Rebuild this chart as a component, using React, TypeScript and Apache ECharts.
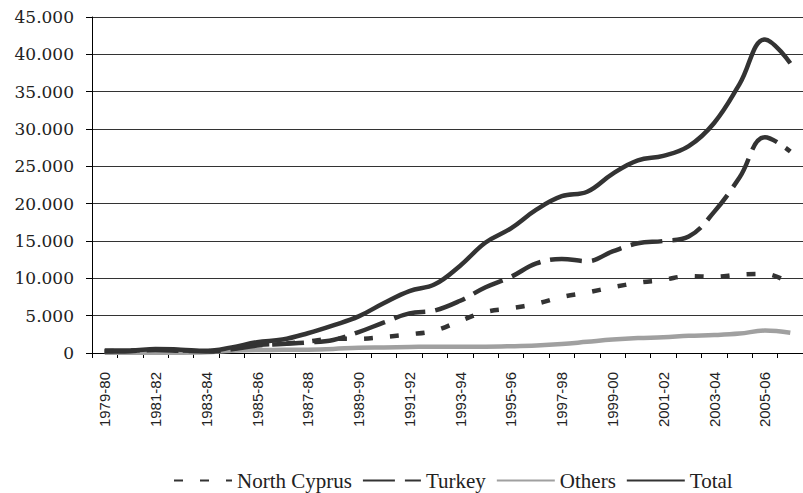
import React, { useEffect, useRef } from "react";
import * as echarts from "echarts";

const categories = [
  "1979-80", "1980-81", "1981-82", "1982-83", "1983-84", "1984-85", "1985-86",
  "1986-87", "1987-88", "1988-89", "1989-90", "1990-91", "1991-92", "1992-93",
  "1993-94", "1994-95", "1995-96", "1996-97", "1997-98", "1998-99", "1999-00",
  "2000-01", "2001-02", "2002-03", "2003-04", "2004-05", "2005-06", "2006-07",
];

const northCyprus = [
  250, 300, 450, 350, 250, 600, 1050, 1250, 1550, 1900, 1900, 2150, 2500, 3000,
  4300, 5500, 6000, 6600, 7500, 8100, 8800, 9400, 9800, 10300, 10200, 10500, 10600, 9300,
];
const turkey = [
  200, 250, 400, 300, 200, 500, 1000, 1200, 1400, 1750, 2800, 4100, 5300, 5700,
  7000, 8800, 10200, 12000, 12600, 12300, 13600, 14700, 15000, 15600, 18900, 23500, 28900, 27000,
];
const others = [
  50, 50, 50, 50, 100, 300, 400, 420, 450, 550, 700, 750, 800, 850,
  850, 850, 900, 1000, 1200, 1500, 1800, 2000, 2100, 2300, 2400, 2600, 3000, 2700,
];
const total = [
  350, 350, 550, 450, 300, 750, 1450, 1800, 2650, 3700, 4900, 6700, 8300, 9200,
  11700, 14800, 16700, 19200, 21000, 21600, 24000, 25800, 26400, 27700, 30800, 36000, 42000, 38800,
];

const seriesNames = ["North Cyprus", "Turkey", "Others", "Total"];

const fmt = (v: number) =>
  String(v).replace(/\B(?=(\d{3})+(?!\d))/g, ".");

export default function App() {
  const ref = useRef<HTMLDivElement>(null);
  useEffect(() => {
    if (!ref.current) return;
    const chart = echarts.init(ref.current, undefined, { renderer: "svg" });
    const dark = "#333333";
    const gray = "#a0a0a0";
    chart.setOption({
      animation: false,
      backgroundColor: "#ffffff",
      grid: { left: 92, top: 17, right: -11, bottom: 140, containLabel: false },
      legend: {
        data: seriesNames,
        left: 168,
        top: 465,
        itemWidth: 58,
        itemHeight: 14,
        itemGap: 10,
        itemStyle: { opacity: 0, borderWidth: 0 },
        textStyle: { fontFamily: "Liberation Serif", fontSize: 21, color: "#222" },
      },
      xAxis: {
        type: "category",
        data: categories,
        boundaryGap: true,
        axisLine: { lineStyle: { color: "#000", width: 1 } },
        axisTick: { show: true, interval: 0, length: 5, lineStyle: { color: "#000" } },
        axisLabel: {
          interval: 1,
          rotate: 90,
          margin: 19,
          fontFamily: "Liberation Sans",
          fontSize: 15,
          color: "#222",
        },
        splitLine: { show: false },
      },
      yAxis: {
        type: "value",
        min: 0,
        max: 45000,
        interval: 5000,
        axisLine: { show: true, lineStyle: { color: "#000", width: 1 } },
        axisTick: { show: true, length: 6, lineStyle: { color: "#000" } },
        axisLabel: {
          margin: 18,
          fontFamily: "DejaVu Serif",
          fontSize: 17,
          color: "#222",
          formatter: (v: number) => fmt(v),
        },
        splitLine: { show: true, lineStyle: { color: "#333", width: 1 } },
      },
      series: [
        {
          name: "North Cyprus",
          type: "line",
          data: northCyprus,
          smooth: 0.4,
          symbol: "none",
          itemStyle: { color: dark },
          lineStyle: { color: dark, width: 4.5, type: [9, 17], cap: "butt" },
          z: 3,
        },
        {
          name: "Turkey",
          type: "line",
          data: turkey,
          smooth: 0.4,
          symbol: "none",
          itemStyle: { color: dark },
          lineStyle: { color: dark, width: 4.5, type: [32, 10], cap: "butt" },
          z: 4,
        },
        {
          name: "Others",
          type: "line",
          data: others,
          smooth: 0.4,
          symbol: "none",
          itemStyle: { color: gray },
          lineStyle: { color: gray, width: 4.5 },
          z: 2,
        },
        {
          name: "Total",
          type: "line",
          data: total,
          smooth: 0.4,
          symbol: "none",
          itemStyle: { color: dark },
          lineStyle: { color: dark, width: 4.5 },
          z: 5,
        },
      ],
    });
    return () => chart.dispose();
  }, []);
  return (
    <div
      ref={ref}
      style={{ position: "fixed", left: 0, top: 0, width: 803, height: 493 }}
    />
  );
}
